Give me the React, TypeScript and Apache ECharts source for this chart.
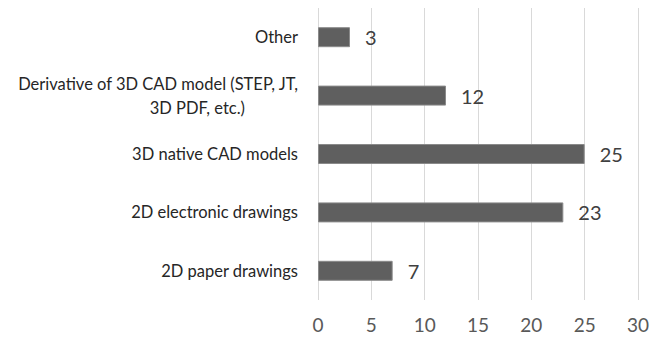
import React, { useEffect, useRef } from "react";
import * as echarts from "echarts";

const categories = [
  "2D paper drawings",
  "2D electronic drawings",
  "3D native CAD models",
  "Derivative of 3D CAD model (STEP, JT, 3D PDF, etc.)",
  "Other",
];
const values = [7, 23, 25, 12, 3];
const xTicks = { min: 0, max: 30, interval: 5 };

export default function App() {
  const ref = useRef<HTMLDivElement>(null);
  useEffect(() => {
    const chart = echarts.init(ref.current!, null, { renderer: "svg" });
    chart.setOption({
      animation: false,
      backgroundColor: "#ffffff",
      textStyle: { fontFamily: "Lato" },
      grid: { left: 318, right: 29, top: 8, bottom: 40 },
      xAxis: {
        type: "value",
        min: xTicks.min,
        max: xTicks.max,
        interval: xTicks.interval,
        axisLine: { show: false },
        axisTick: { show: false },
        splitLine: { show: true, lineStyle: { color: "#d9d9d9", width: 1 } },
        axisLabel: { color: "#595959", fontSize: 19, margin: 15, fontFamily: "Lato" },
      },
      yAxis: {
        type: "category",
        data: categories,
        axisLine: { show: false },
        axisTick: { show: false },
        axisLabel: {
          color: "#262626",
          fontSize: 16.5,
          margin: 20,
          fontFamily: "Lato",
          lineHeight: 24,
          formatter: (v: string) => {
            if (v.startsWith("Derivative")) {
              return "{a|Derivative of 3D CAD model (STEP, JT,}\n{b|3D PDF, etc.)}";
            }
            return v;
          },
          rich: {
            a: { fontSize: 16.5, color: "#262626", fontFamily: "Lato", lineHeight: 24 },
            b: { fontSize: 16.5, color: "#262626", fontFamily: "Lato", lineHeight: 24, padding: [0, 53, 0, 0] },
          },
        },
      },
      series: [
        {
          type: "bar",
          data: values,
          barWidth: 20,
          itemStyle: { color: "#5f5f5f", borderColor: "#8a8a8a", borderWidth: 1 },
          label: {
            show: true,
            position: "right",
            distance: 15,
            color: "#404040",
            fontSize: 20,
            fontFamily: "Lato",
          },
        },
      ],
    });
    return () => chart.dispose();
  }, []);
  return (
    <div
      ref={ref}
      style={{ position: "fixed", left: 0, top: 0, width: 667, height: 340 }}
    />
  );
}
